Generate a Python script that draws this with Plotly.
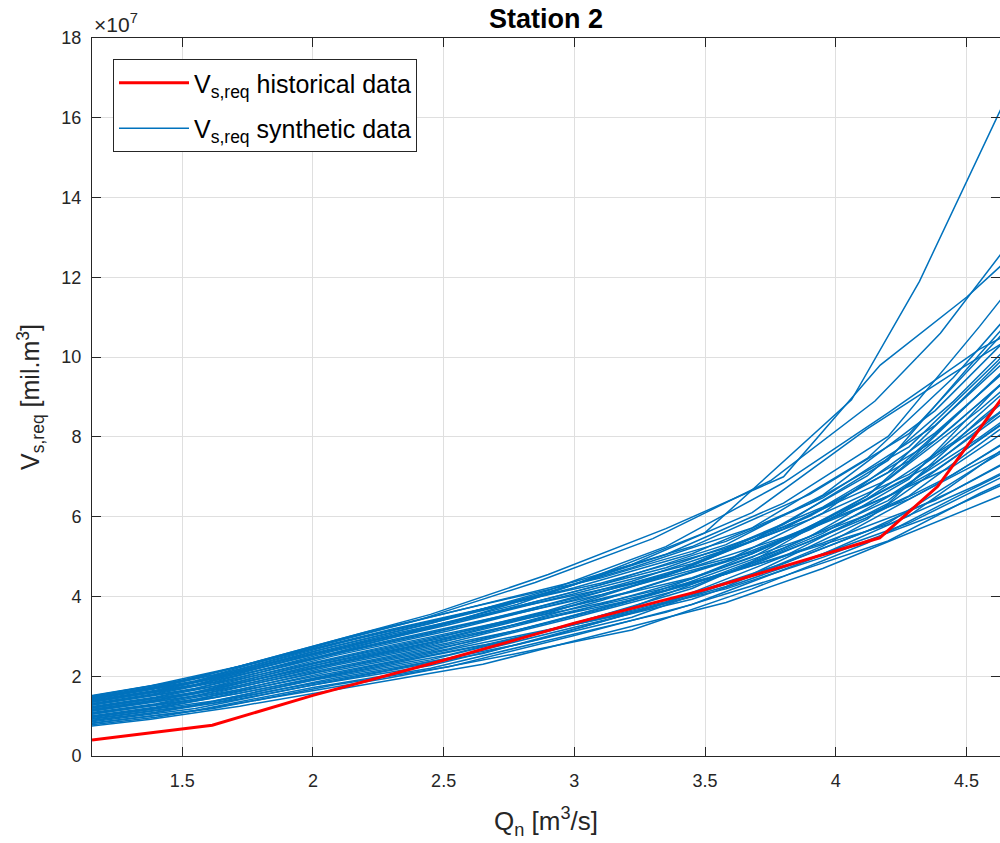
import plotly.graph_objects as go

# ---------------- data (V in units of 1e7 m^3) ----------------
HIST_Q = [1.155, 1.615, 2.00, 2.50, 3.00, 3.50, 4.168, 4.39, 4.75]
HIST_V = [0.40, 0.77, 1.52, 2.40, 3.33, 4.17, 5.47, 6.76, 10.00]

Q_A = [1.10, 1.40, 1.85, 2.30, 2.78, 3.22, 3.68, 4.12, 4.45, 4.80]
Q_B = [1.12, 1.55, 2.00, 2.45, 2.90, 3.35, 3.80, 4.20, 4.55, 4.90]
Q_C = [1.05, 1.38, 1.72, 2.20, 2.65, 3.10, 3.58, 3.95, 4.38, 4.75]
Q_D = [1.14, 1.62, 2.08, 2.52, 3.00, 3.45, 3.90, 4.28, 4.62, 4.95]
Q_O1 = [1.10, 1.50, 2.00, 2.50, 3.00, 3.50, 4.06, 4.32, 4.63, 4.80]
Q_O2 = [1.12, 1.55, 2.00, 2.45, 2.90, 3.35, 3.80, 4.17, 4.50, 4.85]
Q_O3 = [1.08, 1.45, 1.90, 2.40, 2.85, 3.30, 3.75, 4.15, 4.40, 4.75]

V_A = [
    [0.74, 0.97, 1.47, 1.97, 2.57, 3.16, 4.19, 5.34, 6.46, 7.60],
    [0.85, 1.10, 1.64, 2.17, 2.79, 3.48, 4.56, 5.94, 7.47, 9.10],
    [0.96, 1.23, 1.80, 2.37, 3.01, 3.59, 4.51, 5.64, 6.66, 7.90],
    [1.04, 1.31, 1.91, 2.51, 3.15, 3.91, 4.98, 6.52, 8.28, 10.30],
    [1.11, 1.40, 2.01, 2.64, 3.30, 3.91, 4.79, 5.98, 7.06, 8.50],
    [1.19, 1.48, 2.12, 2.78, 3.44, 4.13, 5.07, 6.45, 7.87, 9.70],
    [1.26, 1.57, 2.23, 2.91, 3.59, 4.38, 5.39, 7.02, 8.89, 11.20],
    [1.34, 1.65, 2.34, 3.05, 3.73, 4.33, 5.11, 6.28, 7.27, 8.80],
    [1.41, 1.74, 2.45, 3.18, 3.88, 4.72, 5.72, 7.46, 9.49, 12.10],
    [0.93, 1.19, 1.74, 2.31, 2.94, 3.73, 4.88, 6.52, 8.48, 10.60],
    [1.30, 1.62, 2.30, 3.00, 3.80, 4.80, 6.10, 8.20, 9.60, 11.00],
]
V_B = [
    [0.80, 1.14, 1.72, 2.20, 2.90, 3.60, 4.51, 5.39, 6.58, 7.64],
    [0.91, 1.28, 1.90, 2.41, 3.13, 3.87, 4.83, 5.84, 7.28, 8.64],
    [1.02, 1.42, 2.08, 2.63, 3.35, 4.15, 5.21, 6.40, 8.21, 9.98],
    [1.10, 1.51, 2.20, 2.78, 3.50, 4.15, 5.00, 5.80, 6.82, 7.97],
    [1.17, 1.60, 2.32, 2.92, 3.65, 4.52, 5.69, 7.11, 9.37, 11.66],
    [1.25, 1.69, 2.44, 3.07, 3.80, 4.52, 5.48, 6.51, 7.98, 9.65],
    [1.32, 1.79, 2.56, 3.21, 3.95, 4.72, 5.75, 6.93, 8.68, 10.65],
    [1.40, 1.88, 2.68, 3.36, 4.10, 5.05, 6.34, 8.01, 10.77, 13.67],
    [0.83, 1.19, 1.78, 2.27, 2.98, 3.84, 5.00, 6.33, 8.44, 10.32],
    [1.13, 1.56, 2.26, 2.85, 3.58, 4.52, 5.80, 7.41, 10.07, 12.66],
    [1.38, 1.85, 2.62, 3.32, 4.15, 5.25, 6.85, 8.60, 10.20, 11.40],
]
V_C = [
    [0.67, 0.92, 1.25, 1.80, 2.30, 3.05, 3.85, 4.70, 5.85, 6.85],
    [0.80, 1.07, 1.43, 2.03, 2.57, 3.36, 4.25, 5.26, 6.79, 8.26],
    [0.90, 1.19, 1.57, 2.22, 2.78, 3.44, 4.19, 4.98, 6.04, 7.13],
    [0.98, 1.27, 1.67, 2.35, 2.93, 3.67, 4.56, 5.58, 7.16, 8.83],
    [1.05, 1.36, 1.77, 2.48, 3.08, 3.89, 4.89, 6.09, 8.10, 10.24],
    [1.12, 1.44, 1.87, 2.61, 3.23, 3.83, 4.56, 5.34, 6.41, 7.70],
    [1.20, 1.53, 1.97, 2.74, 3.38, 4.04, 4.89, 5.85, 7.35, 9.11],
    [1.27, 1.61, 2.07, 2.87, 3.53, 4.29, 5.30, 6.54, 8.66, 11.09],
    [1.34, 1.69, 2.17, 3.00, 3.68, 4.33, 5.21, 6.24, 7.91, 9.96],
    [1.40, 1.76, 2.25, 3.10, 3.80, 4.46, 5.38, 6.47, 8.29, 10.52],
]
V_D = [
    [0.80, 1.19, 1.78, 2.24, 3.02, 3.80, 4.92, 6.02, 7.60, 9.00],
    [0.91, 1.33, 1.95, 2.45, 3.23, 3.93, 4.95, 5.84, 6.94, 8.10],
    [1.03, 1.47, 2.14, 2.69, 3.47, 4.25, 5.38, 6.52, 8.15, 9.75],
    [1.11, 1.57, 2.27, 2.84, 3.62, 4.45, 5.67, 6.98, 8.98, 10.88],
    [1.18, 1.66, 2.39, 2.99, 3.77, 4.47, 5.50, 6.44, 7.60, 9.00],
    [1.26, 1.75, 2.51, 3.14, 3.92, 4.77, 6.01, 7.40, 9.53, 11.63],
    [1.33, 1.85, 2.63, 3.29, 4.07, 4.82, 5.93, 7.06, 8.59, 10.35],
    [1.41, 1.94, 2.75, 3.44, 4.22, 5.07, 6.33, 7.75, 9.91, 12.15],
    [1.49, 2.03, 2.88, 3.59, 4.37, 5.25, 6.56, 8.08, 10.46, 12.90],
    [0.95, 1.38, 2.02, 2.54, 3.32, 4.20, 5.50, 6.94, 9.25, 11.25],
]
V_O1 = [1.30, 1.70, 2.45, 3.30, 4.30, 5.60, 8.93, 11.90, 16.20, 18.60]
V_O2 = [1.45, 1.95, 2.75, 3.55, 4.55, 5.70, 7.00, 9.80, 11.50, 13.60]
V_O3 = [1.35, 1.80, 2.55, 3.40, 4.35, 5.45, 6.90, 8.90, 10.60, 13.60]

X_TICKS = [1.5, 2, 2.5, 3, 3.5, 4, 4.5]
Y_TICKS = [0, 2, 4, 6, 8, 10, 12, 14, 16, 18]

BLUE = "#0072BD"
RED = "#FF0000"
AXC = "#262626"
FONT = "Liberation Sans, Arial, sans-serif"

synthetic = []
for q, group in [(Q_A, V_A), (Q_B, V_B), (Q_C, V_C), (Q_D, V_D)]:
    for v in group:
        synthetic.append((q, v))
synthetic += [(Q_O1, V_O1), (Q_O2, V_O2), (Q_O3, V_O3)]

fig = go.Figure()
for i, (q, v) in enumerate(synthetic):
    fig.add_trace(go.Scatter(
        x=q, y=v, mode="lines",
        line=dict(color=BLUE, width=1.5),
        name="V<sub>s,req</sub> synthetic data",
        legendgroup="syn", showlegend=(i == 0), legendrank=2,
        hoverinfo="skip",
    ))
fig.add_trace(go.Scatter(
    x=HIST_Q, y=HIST_V, mode="lines",
    line=dict(color=RED, width=3),
    name="V<sub>s,req</sub> historical data",
    legendgroup="hist", legendrank=1,
))

axis_common = dict(
    showline=True, linecolor=AXC, linewidth=1, mirror="ticks",
    ticks="inside", ticklen=9, tickcolor=AXC, tickwidth=1,
    showgrid=True, gridcolor="#DFDFDF", gridwidth=1,
    zeroline=False,
    tickfont=dict(family=FONT, size=18, color=AXC),
)

fig.update_layout(
    width=1000, height=843,
    margin=dict(l=92, r=0, t=38, b=87),
    paper_bgcolor="white", plot_bgcolor="white",
    font=dict(family=FONT, color=AXC),
    title=dict(text="<b>Station 2</b>", x=0.5, xref="paper", xanchor="center",
               y=1 - 19 / 843, yref="container", yanchor="middle",
               font=dict(family=FONT, size=27, color="black")),
    xaxis=dict(range=[1.155, 4.628], tickvals=X_TICKS,
               ticktext=[str(t) for t in X_TICKS],
               title=dict(text="Q<sub>n</sub> [m<sup>3</sup>/s]",
                          font=dict(family=FONT, size=26, color=AXC), standoff=22),
               ticklabelstandoff=8,
               **axis_common),
    yaxis=dict(range=[0, 18], tickvals=Y_TICKS,
               ticktext=[str(t) for t in Y_TICKS],
               title=dict(text="V<sub>s,req</sub> [mil.m<sup>3</sup>]",
                          font=dict(family=FONT, size=25, color=AXC), standoff=14),
               ticklabelstandoff=6,
               **axis_common),
    legend=dict(x=21 / 908, y=1 - 21 / 718, xanchor="left", yanchor="top",
                bgcolor="white", bordercolor=AXC, borderwidth=1,
                font=dict(family=FONT, size=25, color="black"),
                itemwidth=70, tracegroupgap=10),
    annotations=[dict(text="\u00d710<sup>7</sup>", xref="paper", yref="paper",
                      x=0, y=1, xanchor="left", yanchor="bottom", showarrow=False,
                      font=dict(family=FONT, size=21, color=AXC))],
)

fig.write_html(
    "out.html",
    config={"displayModeBar": False},
    post_script="document.body.style.margin='0';"
                "document.documentElement.style.overflow='hidden';"
                "document.body.style.overflow='hidden';",
)
